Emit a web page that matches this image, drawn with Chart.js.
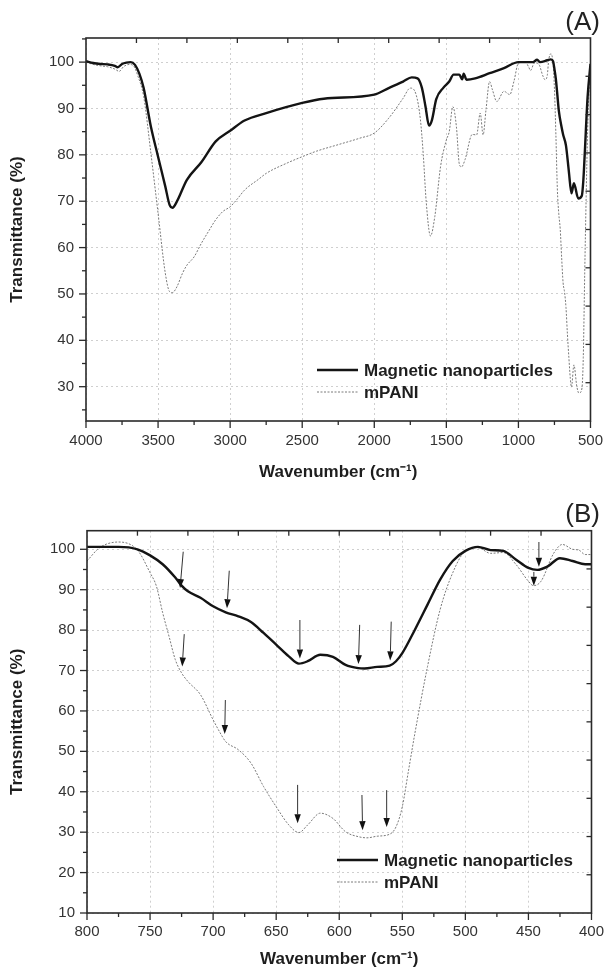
<!DOCTYPE html>
<html>
<head>
<meta charset="utf-8">
<script src="https://cdn.jsdelivr.net/npm/chart.js@4.4.1/dist/chart.umd.min.js"></script>
<style>
  html, body { margin: 0; padding: 0; background: #fff; }
  canvas { display: block; }
</style>
</head>
<body>
<canvas id="chartA" width="614" height="487"></canvas>
<canvas id="chartB" width="614" height="487"></canvas>
<script>
// series names
const seriesNames = ["Magnetic nanoparticles", "mPANI"];

// (A) full spectrum, [wavenumber, transmittance]
const mnpA = [
  [4000,100.2],[3950,99.8],[3900,99.6],[3850,99.5],[3800,99.2],[3780,98.9],[3750,99.6],[3720,99.9],
  [3690,100],[3660,99.4],[3630,97.5],[3600,94.4],[3550,86.1],[3500,79.6],[3450,73.2],[3420,69.2],
  [3400,68.6],[3370,69.9],[3300,74.6],[3200,78.4],[3100,82.9],[3000,85.2],[2900,87.4],[2750,89],
  [2500,91.2],[2350,92.1],[2000,93],[1900,94.4],[1800,95.8],[1740,96.7],[1700,96.5],[1670,94.5],
  [1645,90.5],[1620,86.3],[1600,87.5],[1570,92],[1520,94.5],[1480,95.8],[1450,97.3],[1410,97.3],
  [1390,96.3],[1380,97.5],[1360,96.2],[1300,96.5],[1200,97.6],[1100,98.7],[1000,100],[900,100],
  [870,100.5],[850,100],[800,100.4],[775,100.6],[760,100.2],[750,98.5],[740,96.3],[730,93],
  [720,89.6],[700,85.9],[690,84.4],[670,82],[650,76.4],[632,71.7],[615,73.9],[585,70.6],
  [560,71.2],[550,74.3],[540,80.1],[520,92.5],[500,99.6]
];
const mpaniA = [
  [4000,100],[3950,99.5],[3900,99.2],[3850,99],[3800,98.5],[3770,98],[3740,99],[3700,99.5],
  [3670,99.2],[3640,97],[3600,92.6],[3550,80.4],[3500,67.4],[3450,54.5],[3420,50.5],[3400,50.3],
  [3370,51.5],[3330,54.5],[3300,56.2],[3250,58],[3200,60.9],[3150,63.5],[3100,66],[3050,67.8],
  [3000,68.8],[2950,70.5],[2900,72.4],[2800,74.8],[2750,76],[2600,78.3],[2500,79.6],[2400,80.8],
  [2250,82.2],[2100,83.6],[2000,84.7],[1900,87.9],[1800,92.2],[1750,94.4],[1710,93],[1680,87.6],
  [1660,80],[1640,70],[1610,62.5],[1580,66.7],[1540,77.5],[1500,83.2],[1480,85],[1455,90.4],
  [1430,86],[1410,78],[1395,77.4],[1370,79],[1320,84.4],[1290,84.3],[1265,89],[1245,84.3],
  [1225,89.7],[1200,95.8],[1180,94],[1150,91.5],[1100,93.7],[1060,93],[1030,96],[1000,99.8],
  [950,100],[930,99],[915,98.2],[890,99.8],[860,99.6],[830,97],[815,96.2],[800,97.1],
  [790,100.4],[775,101.8],[760,99.8],[750,94.2],[740,84.3],[730,72.7],[720,67.3],[710,64],
  [700,57.8],[690,52.4],[680,50.4],[670,47.1],[660,41.3],[650,36.3],[640,31.8],[632,29.9],
  [615,34.7],[595,30.1],[580,28.6],[560,29.5],[550,36.3],[540,54.5],[530,71],[520,85.1],
  [510,94.2],[500,99.6]
];

// (B) 800-400 region
const mnpB = [
  [800,100.6],[775,100.6],[760,100],[750,98.5],[740,96.3],[730,93],[725,91],[720,89.6],
  [710,88],[700,85.9],[690,84.4],[680,83.4],[670,82],[660,79.3],[650,76.4],[640,73.5],
  [632,71.7],[625,72.3],[615,73.9],[605,73.4],[595,71.4],[585,70.6],[580,70.5],[570,70.9],
  [560,71.2],[555,72.3],[550,74.3],[540,80.1],[530,86.3],[520,92.5],[510,97.1],[500,99.6],
  [490,100.6],[480,99.8],[470,99.6],[460,97.5],[450,95.4],[443,94.9],[435,95.7],[425,97.8],
  [415,97.1],[405,96.3],[400,96.3]
];
const mpaniB = [
  [800,97.1],[790,100.4],[775,101.8],[760,99.8],[750,94.2],[745,90.9],[740,84.3],[735,78.5],
  [730,72.7],[725,69.4],[720,67.3],[710,64],[700,57.8],[695,54.9],[690,52.4],[680,50.4],
  [670,47.1],[660,41.3],[650,36.3],[640,31.8],[632,29.9],[625,31.8],[615,34.7],[605,33.4],
  [595,30.1],[585,28.9],[578,28.6],[570,29],[560,29.5],[555,31.3],[550,36.3],[545,45.4],
  [540,54.5],[530,71],[520,85.1],[510,94.2],[500,99.6],[490,100.4],[480,99],[470,99.2],
  [460,96.3],[450,92.1],[446,91],[440,92.1],[430,99],[423,101.2],[415,100],[410,99.8],
  [405,98.7],[400,98.7]
];
// arrows in (B): [x from, y from, x to, y to]
const arrowsB = [
  [723.7,99.4,726.2,90.4],[687.2,94.7,689,85.4],[631.2,82.5,631.2,73],[583.8,81.3,584.8,71.6],
  [558.8,82.1,559.6,72.5],[441.7,101.8,441.7,95.7],
  [722.9,79,724.5,71],[690.3,62.7,690.8,54.3],[633,41.7,633,32.2],[582,39.2,581.5,30.5],
  [562.4,40.4,562.4,31.3],[445.7,94.4,445.7,91]
];

// tick labels
const xTicksA = [4000, 3500, 3000, 2500, 2000, 1500, 1000, 500];
const yTicksA = [30, 40, 50, 60, 70, 80, 90, 100];
const xTicksB = [800, 750, 700, 650, 600, 550, 500, 450, 400];
const yTicksB = [10, 20, 30, 40, 50, 60, 70, 80, 90, 100];

const FONT = "'Liberation Sans', Arial, Helvetica, sans-serif";
Chart.defaults.font.family = FONT;

const toPoints = arr => arr.map(([x, y]) => ({ x: x, y: y }));

function seg(ctx, x0, y0, x1, y1) {
  ctx.beginPath();
  ctx.moveTo(x0, y0);
  ctx.lineTo(x1, y1);
  ctx.stroke();
}

// midpoints between major ticks, plus half steps past the ends when inside range
function minorValues(scale) {
  const v = scale.ticks.map(t => t.value).sort((a, b) => a - b);
  const out = [];
  const step = v[1] - v[0];
  for (let i = 0; i < v.length - 1; i++) out.push((v[i] + v[i + 1]) / 2);
  if (v[0] - step / 2 >= scale.min) out.push(v[0] - step / 2);
  if (v[v.length - 1] + step / 2 <= scale.max) out.push(v[v.length - 1] + step / 2);
  return out;
}

const axisFrame = {
  id: "axisFrame",
  afterDraw(chart) {
    const { ctx, chartArea: a } = chart;
    const { x, y, x2, y2 } = chart.scales;
    ctx.save();
    ctx.strokeStyle = "#2a2a2a";
    ctx.lineWidth = 1.3;
    x.ticks.forEach(t => {
      const px = x.getPixelForValue(t.value);
      seg(ctx, px, a.bottom, px, a.bottom + 7);
    });
    minorValues(x).forEach(v => {
      const px = x.getPixelForValue(v);
      seg(ctx, px, a.bottom, px, a.bottom + 4);
    });
    y.ticks.forEach(t => {
      const py = y.getPixelForValue(t.value);
      seg(ctx, a.left - 7, py, a.left, py);
    });
    minorValues(y).forEach(v => {
      const py = y.getPixelForValue(v);
      seg(ctx, a.left - 4, py, a.left, py);
    });
    // secondary axes: inward ticks
    x2.ticks.forEach(t => {
      if (t.value <= x2.min || t.value >= x2.max) return;
      const px = x2.getPixelForValue(t.value);
      seg(ctx, px, a.top, px, a.top + 5);
    });
    y2.ticks.forEach(t => {
      if (t.value <= y2.min || t.value >= y2.max) return;
      const py = y2.getPixelForValue(t.value);
      seg(ctx, a.right - 5, py, a.right, py);
    });
    ctx.lineWidth = 1.6;
    ctx.strokeRect(a.left, a.top, a.right - a.left, a.bottom - a.top);
    ctx.restore();
  }
};

function insetLegend(lx, ly, gap) {
  return {
    id: "insetLegend",
    afterDraw(chart) {
      const ctx = chart.ctx;
      chart.data.datasets.forEach((ds, i) => {
        const yy = ly + i * gap;
        ctx.save();
        ctx.strokeStyle = ds.borderColor;
        ctx.lineWidth = ds.borderWidth;
        ctx.setLineDash(ds.borderDash || []);
        seg(ctx, lx, yy, lx + 41, yy);
        ctx.setLineDash([]);
        ctx.fillStyle = "#1e1e1e";
        ctx.font = "bold 17px " + FONT;
        ctx.textBaseline = "middle";
        ctx.fillText(ds.label, lx + 47, yy + 1);
        ctx.restore();
      });
    }
  };
}

function arrowMarks(list) {
  return {
    id: "arrowMarks",
    afterDatasetsDraw(chart) {
      const { ctx } = chart;
      const { x, y } = chart.scales;
      ctx.save();
      ctx.strokeStyle = "#333";
      ctx.fillStyle = "#111";
      ctx.lineWidth = 1;
      list.forEach(([xa, ya, xb, yb]) => {
        const x0 = x.getPixelForValue(xa), y0 = y.getPixelForValue(ya);
        const x1 = x.getPixelForValue(xb), y1 = y.getPixelForValue(yb);
        const ang = Math.atan2(y1 - y0, x1 - x0);
        const c = Math.cos(ang), s = Math.sin(ang);
        const head = 9, half = 3.2;
        seg(ctx, x0, y0, x1 - head * c, y1 - head * s);
        ctx.beginPath();
        ctx.moveTo(x1, y1);
        ctx.lineTo(x1 - head * c + half * s, y1 - head * s - half * c);
        ctx.lineTo(x1 - head * c - half * s, y1 - head * s + half * c);
        ctx.closePath();
        ctx.fill();
      });
      ctx.restore();
    }
  };
}

function makeChart(id, o) {
  const tickFont = { size: 15 };
  const titleFont = { size: 17, weight: "bold" };
  return new Chart(document.getElementById(id), {
    type: "line",
    data: {
      datasets: [
        {
          label: seriesNames[0],
          data: toPoints(o.mnp),
          borderColor: "#141414",
          borderWidth: 2.4,
          pointRadius: 0,
          cubicInterpolationMode: "monotone",
          order: 1
        },
        {
          label: seriesNames[1],
          data: toPoints(o.mpani),
          borderColor: "#7a7a7a",
          borderWidth: 1,
          borderDash: [2, 1.5],
          pointRadius: 0,
          cubicInterpolationMode: "monotone",
          order: 2
        }
      ]
    },
    options: {
      responsive: false,
      animation: false,
      layout: { padding: { left: 0, right: 14, top: 0, bottom: 0 } },
      plugins: {
        legend: { display: false },
        tooltip: { enabled: false },
        title: {
          display: true,
          text: o.panel,
          align: "end",
          color: "#222",
          font: { size: 26, weight: "normal", lineHeight: 1 },
          padding: o.panelPad
        }
      },
      scales: {
        x: {
          type: "linear",
          position: "bottom",
          reverse: true,
          min: o.xMin,
          max: o.xMax,
          afterBuildTicks: s => { s.ticks = o.xTicks.map(v => ({ value: v })); },
          afterFit: s => { s.height = o.xAxisH; },
          grid: { color: "#cfcfcf", lineWidth: 1, drawTicks: false },
          border: { display: false, dash: [2, 3] },
          ticks: { color: "#333", font: tickFont, padding: o.xTickPad, maxRotation: 0, callback: v => String(v) },
          title: { display: true, text: "Wavenumber (cm⁻¹)", color: "#1e1e1e", font: titleFont, padding: { top: 0, bottom: 4 } }
        },
        y: {
          type: "linear",
          position: "left",
          min: o.yMin,
          max: o.yMax,
          afterBuildTicks: s => { s.ticks = o.yTicks.map(v => ({ value: v })); },
          afterFit: s => { s.width = o.yAxisW; },
          grid: { color: "#cfcfcf", lineWidth: 1, drawTicks: false },
          border: { display: false, dash: [2, 3] },
          ticks: { color: "#333", font: tickFont, padding: 12, callback: v => String(v) },
          title: { display: true, text: "Transmittance (%)", color: "#1e1e1e", font: titleFont, padding: { top: 7, bottom: 0 } }
        },
        x2: {
          type: "linear",
          position: "top",
          min: 0,
          max: 10,
          grid: { display: false },
          border: { display: false },
          ticks: { display: false, stepSize: 1 },
          afterFit: s => { s.height = 0; }
        },
        y2: {
          type: "linear",
          position: "right",
          min: 0,
          max: 100,
          grid: { display: false },
          border: { display: false },
          ticks: { display: false, stepSize: 10 },
          afterFit: s => { s.width = 0; }
        }
      }
    },
    plugins: [axisFrame, insetLegend(o.legendX, o.legendY, 22), arrowMarks(o.arrows)]
  });
}

makeChart("chartA", {
  mnp: mnpA, mpani: mpaniA, panel: "(A)", panelPad: { top: 10, bottom: 2 },
  xMin: 500, xMax: 4000, yMin: 22.6, yMax: 105.2,
  xTicks: xTicksA, yTicks: yTicksA,
  xAxisH: 66, yAxisW: 86, xTickPad: 11,
  legendX: 317, legendY: 370, arrows: []
});

makeChart("chartB", {
  mnp: mnpB, mpani: mpaniB, panel: "(B)", panelPad: { top: 15, bottom: 2.7 },
  xMin: 400, xMax: 800, yMin: 10, yMax: 104.6,
  xTicks: xTicksB, yTicks: yTicksB,
  xAxisH: 61, yAxisW: 87, xTickPad: 10,
  legendX: 337, legendY: 373, arrows: arrowsB
});
</script>
</body>
</html>
